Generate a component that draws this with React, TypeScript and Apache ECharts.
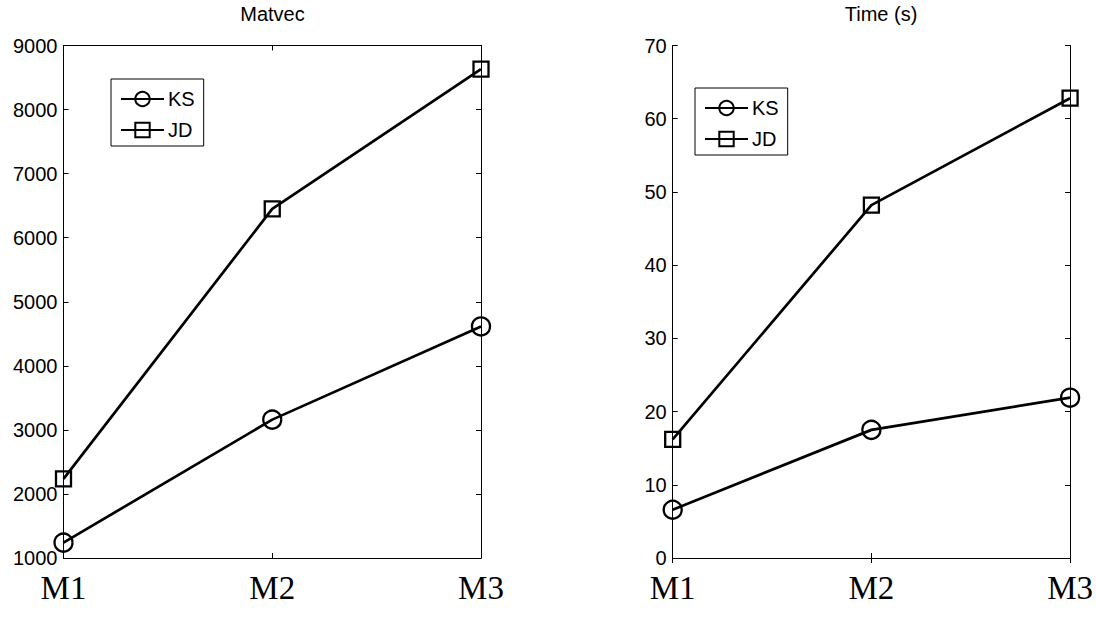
import React, { useEffect, useRef } from "react";
import * as echarts from "echarts";

const categories = ["M1", "M2", "M3"];
const matvecKS = [1240, 3160, 4615];
const matvecJD = [2235, 6450, 8630];
const timeKS = [6.6, 17.5, 21.9];
const timeJD = [16.2, 48.2, 62.8];
const seriesNames = ["KS", "JD"];
const titles = ["Matvec", "Time (s)"];

const SANS = "'Liberation Sans', Arial, Helvetica, sans-serif";
const SERIF = "'Liberation Serif', 'Times New Roman', serif";

export default function App() {
  const ref = useRef<HTMLDivElement>(null);
  useEffect(() => {
    if (!ref.current) return;
    const chart = echarts.init(ref.current, undefined, { renderer: "svg" });
    const grids = [
      { left: 63.5, right: 615, top: 45.5, bottom: 61 },
      { left: 672.7, right: 6.7, top: 45.5, bottom: 61 },
    ];
    const yDefs = [
      { min: 1000, max: 9000, interval: 1000 },
      { min: 0, max: 70, interval: 10 },
    ];
    const xAxes: any[] = [];
    const yAxes: any[] = [];
    grids.forEach((_, i) => {
      xAxes.push({
        type: "category",
        gridIndex: i,
        data: categories,
        boundaryGap: false,
        position: "bottom",
        axisLine: { show: true, lineStyle: { color: "#000", width: 1 } },
        axisTick: { show: true, inside: true, length: 5, lineStyle: { color: "#000" } },
        axisLabel: { fontFamily: SERIF, fontSize: 33, color: "#000", margin: 13 },
        splitLine: { show: false },
      });
      xAxes.push({
        type: "category",
        gridIndex: i,
        data: categories,
        boundaryGap: false,
        position: "top",
        axisLine: { show: true, lineStyle: { color: "#000", width: 1 } },
        axisTick: { show: true, inside: true, length: 5, lineStyle: { color: "#000" } },
        axisLabel: { show: false },
        splitLine: { show: false },
      });
      yAxes.push({
        type: "value",
        gridIndex: i,
        position: "left",
        ...yDefs[i],
        axisLine: { show: true, lineStyle: { color: "#000", width: 1 } },
        axisTick: { show: true, inside: true, length: 5, lineStyle: { color: "#000" } },
        axisLabel: {
          fontFamily: SANS,
          fontSize: 20,
          color: "#000",
          margin: 6,
          formatter: (v: number) => String(v),
        },
        splitLine: { show: false },
      });
      yAxes.push({
        type: "value",
        gridIndex: i,
        position: "right",
        ...yDefs[i],
        axisLine: { show: true, lineStyle: { color: "#000", width: 1 } },
        axisTick: { show: true, inside: true, length: 5, lineStyle: { color: "#000" } },
        axisLabel: { show: false },
        splitLine: { show: false },
      });
    });

    const mk = (name: string, data: number[], gi: number, symbol: string, size: number) => ({
      type: "line",
      name,
      data,
      xAxisIndex: gi * 2,
      yAxisIndex: gi * 2,
      symbol,
      symbolSize: size,
      showSymbol: true,
      clip: false,
      lineStyle: { color: "#000", width: 2.7 },
      itemStyle: { color: "rgba(0,0,0,0)", borderColor: "#000", borderWidth: 2.3 },
      emphasis: { disabled: true },
      z: 3,
    });

    const series = [
      mk(seriesNames[0], matvecKS, 0, "circle", 18),
      mk(seriesNames[1], matvecJD, 0, "rect", 15),
      mk(seriesNames[0], timeKS, 1, "circle", 18),
      mk(seriesNames[1], timeJD, 1, "rect", 15),
    ];

    const legendBase = {
      orient: "vertical",
      data: seriesNames,
      itemWidth: 43,
      itemHeight: 18,
      itemGap: 11,
      padding: [10, 9, 6, 9],
      borderColor: "#000",
      borderWidth: 1,
      backgroundColor: "#fff",
      selectedMode: false,
      textStyle: { fontFamily: SANS, fontSize: 20, color: "#000", padding: [0, 0, 0, -1] },
    };

    const titleStyle = { fontFamily: SANS, fontSize: 20, fontWeight: "normal", color: "#000" };

    chart.setOption({
      animation: false,
      backgroundColor: "#fff",
      title: [
        { text: titles[0], left: 272.5, top: 4, padding: 0, textAlign: "center", textStyle: titleStyle },
        { text: titles[1], left: 881, top: 4, padding: 0, textAlign: "center", textStyle: titleStyle },
      ],
      legend: [
        { ...legendBase, left: 111, top: 79 },
        { ...legendBase, left: 695, top: 88 },
      ],
      grid: grids.map((g) => ({ ...g, containLabel: false, show: false })),
      xAxis: xAxes,
      yAxis: yAxes,
      series,
    });
    return () => chart.dispose();
  }, []);
  return (
    <div
      ref={ref}
      style={{ position: "fixed", left: 0, top: 0, width: 1096, height: 619, background: "#fff" }}
    />
  );
}
